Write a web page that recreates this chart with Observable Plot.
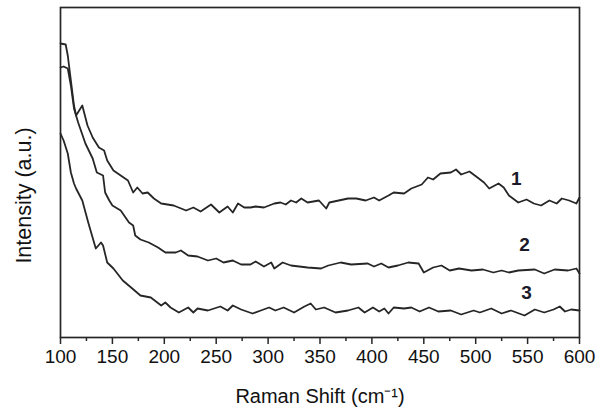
<!DOCTYPE html>
<html>
<head>
<meta charset="utf-8">
<script src="https://cdn.jsdelivr.net/npm/d3@7"></script>
<script src="https://cdn.jsdelivr.net/npm/@observablehq/plot@0.6"></script>
<style>
  html, body { margin: 0; padding: 0; background: #fff; }
  #chart svg { display: block; font-family: "Liberation Sans", Arial, sans-serif; }
</style>
</head>
<body>
<div id="chart"></div>
<script>
// Raman shift (cm^-1) and intensity (a.u.)
const shift1 = [100,103,107,110,113,115,118,121,126,131,137,142,145,151,158,165,170,174,179,184,190,197,209,221,228,235,245,253,261,266,271,277,283,288,296,306,312,317,322,327,332,338,349,356,359,368,377,385,394,402,407,416,421,431,438,448,454,459,466,476,481,486,494,503,508,513,522,527,532,541,549,556,563,571,578,583,590,597,600];
const inten1 = [270,271,269,252,229,222,227,232,212,200,190,187,177,167,162,157,145,150,144,145,139,134,132,127,130,126,133,125,131,125,134,130,130,131,130,134,135,133,137,135,139,135,137,129,135,137,139,139,137,140,137,142,145,144,149,153,160,158,164,165,168,163,166,159,155,149,154,150,142,135,138,134,132,137,134,139,137,134,140];

const shift2 = [100,105,107,110,113,115,117,124,131,135,141,143,147,150,158,166,170,172,177,185,194,201,211,216,223,232,242,250,257,266,274,283,288,296,303,306,314,322,338,351,358,370,380,396,402,409,416,425,435,445,450,459,467,475,484,496,507,517,525,532,541,557,566,576,589,597,600];
const inten2 = [294,293,282,257,232,222,215,194,179,165,162,145,137,132,127,115,112,102,98,95,90,85,85,87,82,81,77,79,75,77,73,73,76,71,75,69,75,72,70,69,72,75,73,74,71,74,70,72,75,74,65,70,72,67,69,67,68,65,67,65,67,68,64,68,67,69,64];

const shift3 = [100,103,107,110,113,115,121,127,134,139,141,145,151,160,168,177,187,197,201,206,214,223,228,232,242,254,261,266,274,285,293,301,307,315,325,335,341,346,354,365,377,387,393,401,407,412,416,421,431,438,446,455,464,476,486,498,504,515,525,534,547,557,566,575,581,586,592,600];
const inten3 = [204,197,184,165,154,149,137,114,89,95,92,75,69,57,50,42,40,32,35,30,25,30,25,29,27,31,27,32,28,24,27,30,27,30,25,31,34,28,30,25,27,30,25,30,26,29,24,30,29,30,26,30,26,27,23,27,25,29,24,27,22,28,25,28,31,26,28,27];

const seriesNames = ["1", "2", "3"];
const labelShift = [539, 547, 549];
const labelInten = [159, 93, 45];

const majorTicks = [100,150,200,250,300,350,400,450,500,550,600];
const minorTicks = [125,175,225,275,325,375,425,475,525,575];
const xTitle = "Raman Shift (cm\u207B\u00B9)";
const yTitle = "Intensity (a.u.)";

const series = [[shift1, inten1], [shift2, inten2], [shift3, inten3]];
const data = series.flatMap(([xs, ys], i) =>
  xs.map((x, j) => ({series: seriesNames[i], x, y: ys[j]})));
const labels = seriesNames.map((s, i) => ({s, x: labelShift[i], y: labelInten[i]}));

const ink = "#262626";
const chart = Plot.plot({
  width: 597,
  height: 414,
  marginLeft: 60,
  marginRight: 18,
  marginTop: 7,
  marginBottom: 77,
  style: {fontFamily: "Liberation Sans, Arial, sans-serif", color: ink, background: "#fff"},
  x: {domain: [100, 600]},
  y: {domain: [0, 330], axis: null},
  marks: [
    Plot.lineY(data, {x: "x", y: "y", z: "series", stroke: ink, strokeWidth: 1.8, strokeLinejoin: "round"}),
    Plot.text(labels, {x: "x", y: "y", text: "s", fontSize: 19, fontWeight: "bold", fill: "#1a1a2a"}),
    Plot.frame({stroke: ink, strokeWidth: 1.7}),
    Plot.axisX(minorTicks, {tickSize: 4, text: null, label: null, strokeWidth: 1.5, stroke: ink}),
    Plot.axisX(majorTicks, {tickSize: 7, tickPadding: 5, fontSize: 19, strokeWidth: 1.5, stroke: ink, fill: "#111", label: null}),
    Plot.text([xTitle], {frameAnchor: "bottom", lineAnchor: "middle", dy: 59, fontSize: 20, fill: "#111"}),
    Plot.text([yTitle], {frameAnchor: "left", textAnchor: "middle", lineAnchor: "middle", rotate: -90, dx: -36, dy: 23, fontSize: 21.5, fill: "#111"})
  ]
});
document.getElementById("chart").appendChild(chart);
</script>
</body>
</html>
